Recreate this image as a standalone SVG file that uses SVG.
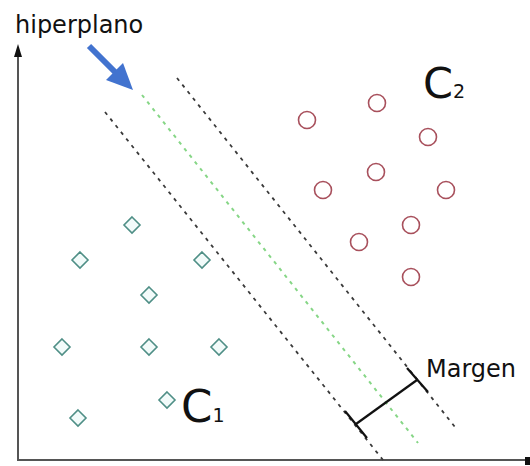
<svg xmlns="http://www.w3.org/2000/svg" width="530" height="466" viewBox="0 0 530 466">
<style>
.txt{font-family:"DejaVu Sans","Liberation Sans",sans-serif;fill:#111}
.dia{fill:#f2fbfa;stroke:#4f8f86;stroke-width:1.6}
.cir{fill:none;stroke:#a8505c;stroke-width:1.6}
.bd{stroke:#3a3a3a;stroke-width:1.8;stroke-dasharray:3.5 5;fill:none}
.gd{stroke:#86d686;stroke-width:2;stroke-dasharray:3.5 5;fill:none}
.axis{stroke:#555;stroke-width:2;fill:none}
</style>
<rect width="530" height="466" fill="#fff"/>
<g id="axes">
<line class="axis" x1="18" y1="52" x2="18" y2="460"/>
<polygon points="18,44 14,57 22,57" fill="#111"/>
<line class="axis" x1="17" y1="460" x2="526" y2="460"/>
<rect x="525" y="457" width="5" height="8" fill="#111"/>
</g>
<g id="connectors">
<line id="margin-left" class="bd" x1="105" y1="112" x2="383" y2="460"/>
<line id="hyperplane" class="gd" x1="142" y1="95" x2="418" y2="443"/>
<line id="margin-right" class="bd" x1="177" y1="78" x2="455" y2="427"/>
<g id="margin-bar" stroke="#111" stroke-width="2.2" fill="none">
<line x1="356" y1="424" x2="417" y2="380"/>
<line x1="345" y1="411" x2="367" y2="438"/>
<line x1="407" y1="368" x2="428" y2="392"/>
</g>
<g id="blue-arrow">
<line x1="89" y1="46" x2="117" y2="74" stroke="#4273cf" stroke-width="6"/>
<polygon points="133,90 106,80 123,63" fill="#4273cf"/>
</g>
</g>
<g id="class2">
<circle class="cir" cx="377" cy="103" r="8.5"/>
<circle class="cir" cx="307" cy="120" r="8.5"/>
<circle class="cir" cx="428" cy="137" r="8.5"/>
<circle class="cir" cx="376" cy="172" r="8.5"/>
<circle class="cir" cx="323" cy="190" r="8.5"/>
<circle class="cir" cx="446" cy="190" r="8.5"/>
<circle class="cir" cx="411" cy="225" r="8.5"/>
<circle class="cir" cx="359" cy="242" r="8.5"/>
<circle class="cir" cx="411" cy="277" r="8.5"/>
</g>
<g id="class1">
<polygon class="dia" points="132,217 140,225 132,233 124,225"/>
<polygon class="dia" points="80,252 88,260 80,268 72,260"/>
<polygon class="dia" points="202,252 210,260 202,268 194,260"/>
<polygon class="dia" points="149,287 157,295 149,303 141,295"/>
<polygon class="dia" points="62,339 70,347 62,355 54,347"/>
<polygon class="dia" points="149,339 157,347 149,355 141,347"/>
<polygon class="dia" points="219,339 227,347 219,355 211,347"/>
<polygon class="dia" points="167,392 175,400 167,408 159,400"/>
<polygon class="dia" points="78,410 86,418 78,426 70,418"/>
</g>
<g id="labels">
<text class="txt" x="15" y="33" font-size="24">hiperplano</text>
<text class="txt" x="426" y="377" font-size="24">Margen</text>
<text class="txt" x="423" y="98" font-size="43">C<tspan font-size="19">2</tspan></text>
<text class="txt" x="181" y="422" font-size="45">C<tspan font-size="19">1</tspan></text>
</g>
</svg>
